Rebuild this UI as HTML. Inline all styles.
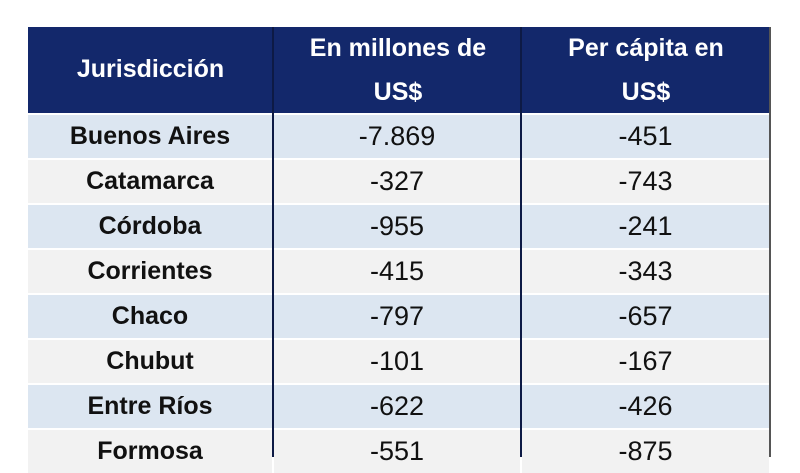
<!DOCTYPE html>
<html><head><style>
body{margin:0;width:800px;height:450px;background:#fff;overflow:hidden;font-family:"Liberation Sans",sans-serif;position:relative}
.t{position:absolute;left:28px;top:27px;width:743px}
.hdr{position:absolute;left:0;top:0;width:743px;height:86px;background:#13286b}
.c{position:absolute;display:flex;align-items:center;justify-content:center;text-align:center;box-sizing:border-box}
.h{color:#fff;font-weight:bold;font-size:25px;line-height:44px}
.r{font-size:27px;color:#111}
.b{font-weight:bold;font-size:25px}
.v{position:absolute;width:2px;background:#1a1a1a}
</style></head><body>
<div class="t">
<div class="hdr"></div>
<div class="c h" style="left:0;top:0;width:245px;height:84px">Jurisdicción</div>
<div class="c h" style="left:247px;top:0;width:246px;height:84px;padding-top:2px">En millones de<br>US$</div>
<div class="c h" style="left:495px;top:0;width:246px;height:84px;padding-top:2px">Per cápita en<br>US$</div>
<div id="rows"></div>
<div class="v" style="left:244px;top:0;height:430px;background:#0d1a45"></div>
<div class="v" style="left:492px;top:0;height:430px;background:#0d1a45"></div>
<div class="v" style="left:741px;top:0;height:430px;background:#555"></div>
</div>
<script>
var d=[["Buenos Aires","-7.869","-451"],["Catamarca","-327","-743"],["Córdoba","-955","-241"],["Corrientes","-415","-343"],["Chaco","-797","-657"],["Chubut","-101","-167"],["Entre Ríos","-622","-426"],["Formosa","-551","-875"]];
var h="";
d.forEach(function(r,i){var top=88+i*45,bg=i%2==0?"#dce6f1":"#f2f2f2";
var L=[[0,244],[246,246],[494,247]];
r.forEach(function(t,j){h+='<div class="c r'+(j==0?' b':'')+'" style="left:'+L[j][0]+'px;top:'+top+'px;width:'+L[j][1]+'px;height:43px;background:'+bg+'">'+t+'</div>';});});
document.getElementById("rows").innerHTML=h;
</script>
</body></html>
